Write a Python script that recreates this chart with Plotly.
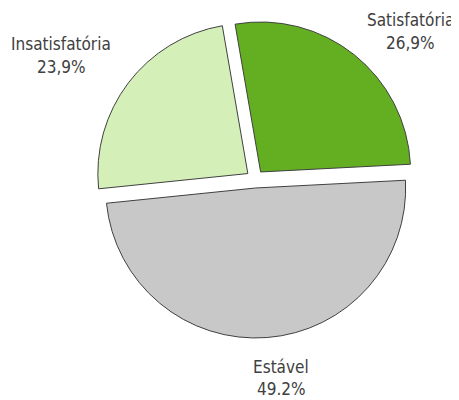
import plotly.graph_objects as go

categories = ["Satisfatória", "Estável", "Insatisfatória"]
values = [26.9, 49.2, 23.9]
pct_text = ["26,9%", "49.2%", "23,9%"]
colors = ["#64AE22", "#C8C8C8", "#D4F0B8"]

W, H = 459, 400
OFF = 8  # page body margin in the browser

# label positions (screen px): x center, y of line 1, y of line 2
label_pos = {"Satisfatória": (410, 20, 43), "Estável": (281, 367, 389), "Insatisfatória": (61, 44, 67)}

fig = go.Figure(go.Pie(
    labels=categories, values=values, sort=False, direction="clockwise",
    rotation=-9.8, pull=[0.06, 0.06, 0.06], textinfo="none", hoverinfo="label+percent",
    marker=dict(colors=colors, line=dict(color="#404040", width=1)),
    domain=dict(x=[(96 - OFF) / W, (414 - OFF) / W], y=[(H - 338 + OFF) / H, (H - 20 + OFF) / H]),
    showlegend=False,
))

FONT = "DejaVu Sans Condensed, Liberation Sans Narrow, sans-serif"
anns = []
for cat, pct in zip(categories, pct_text):
    x, y1, y2 = label_pos[cat]
    for txt, yy in ((cat, y1), (pct, y2)):
        anns.append(dict(x=(x - OFF) / W, y=1 - (yy - OFF) / H, xref="paper", yref="paper", text=txt,
                         showarrow=False, xanchor="center", yanchor="middle",
                         font=dict(family=FONT, size=17, color="#404040")))

fig.update_layout(width=W, height=H, margin=dict(l=0, r=0, t=0, b=0),
                  paper_bgcolor="white", plot_bgcolor="white", annotations=anns)
fig.write_html("out.html")
